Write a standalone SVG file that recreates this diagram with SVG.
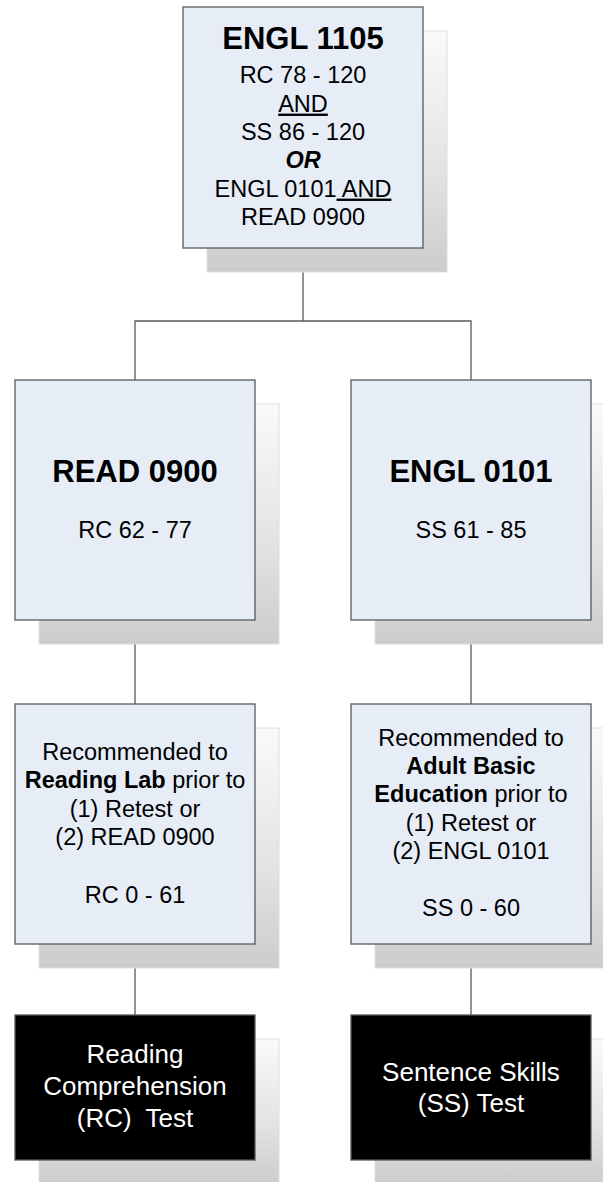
<svg xmlns="http://www.w3.org/2000/svg" width="603" height="1182" viewBox="0 0 603 1182">
<defs>
<linearGradient id="shd" x1="0" y1="0" x2="0" y2="1">
<stop offset="0" stop-color="#fafafa"/>
<stop offset="0.6" stop-color="#e2e2e2"/>
<stop offset="1" stop-color="#cccccc"/>
</linearGradient>
<style>
.shadow{fill:url(#shd);stroke:#dddddd;stroke-width:1}
.box{fill:#e6edf7;stroke:#595959;stroke-width:1.3}
.dark{fill:#000000;stroke:#595959;stroke-width:1.3}
.conn{fill:none;stroke:#595959;stroke-width:1.3}
text{font-family:"Liberation Sans",Arial,sans-serif;text-anchor:middle;fill:#000000}
.title{font-size:31px;font-weight:bold}
.body{font-size:23.5px}
.wt{font-size:26px;fill:#ffffff;white-space:pre}
.b{font-weight:bold}
.u{text-decoration:underline}
</style>
</defs>
<rect width="603" height="1182" fill="#ffffff"/>
<g id="connectors">
<path class="conn" d="M303 248 V321"/>
<path class="conn" d="M135 380 V321 H471 V380"/>
<path class="conn" d="M135 620 V704"/>
<path class="conn" d="M471 620 V704"/>
<path class="conn" d="M135 944 V1015"/>
<path class="conn" d="M471 944 V1015"/>
</g>
<g id="engl1105">
<rect class="shadow" x="207" y="31" width="240" height="241"/>
<rect class="box" x="183" y="7" width="240" height="241"/>
<text class="title" x="303" y="48.5">ENGL 1105</text>
<text class="body" x="303" y="83.3">RC 78 - 120</text>
<text class="body" x="303" y="111.6"><tspan class="u">AND</tspan></text>
<text class="body" x="303" y="139.9">SS 86 - 120</text>
<text class="body b" x="303" y="168.2" font-style="italic">OR</text>
<text class="body" x="303" y="196.6">ENGL 0101<tspan class="u"> AND</tspan></text>
<text class="body" x="303" y="224.9">READ 0900</text>
</g>
<g id="read0900">
<rect class="shadow" x="39" y="404" width="240" height="240"/>
<rect class="box" x="15" y="380" width="240" height="240"/>
<text class="title" x="135" y="481.7">READ 0900</text>
<text class="body" x="135" y="538.3">RC 62 - 77</text>
</g>
<g id="engl0101">
<rect class="shadow" x="375" y="404" width="240" height="240"/>
<rect class="box" x="351" y="380" width="240" height="240"/>
<text class="title" x="471" y="481.7">ENGL 0101</text>
<text class="body" x="471" y="538.3">SS 61 - 85</text>
</g>
<g id="readinglab">
<rect class="shadow" x="39" y="728" width="240" height="240"/>
<rect class="box" x="15" y="704" width="240" height="240"/>
<text class="body" x="135" y="759.5">Recommended to</text>
<text class="body" x="135" y="788"><tspan class="b">Reading Lab</tspan> prior to</text>
<text class="body" x="135" y="816.5">(1) Retest or</text>
<text class="body" x="135" y="845">(2) READ 0900</text>
<text class="body" x="135" y="902.5">RC 0 - 61</text>
</g>
<g id="adultbasic">
<rect class="shadow" x="375" y="728" width="240" height="240"/>
<rect class="box" x="351" y="704" width="240" height="240"/>
<text class="body" x="471" y="745.5">Recommended to</text>
<text class="body b" x="471" y="773.9">Adult Basic</text>
<text class="body" x="471" y="802.3"><tspan class="b">Education</tspan> prior to</text>
<text class="body" x="471" y="830.6">(1) Retest or</text>
<text class="body" x="471" y="859">(2) ENGL 0101</text>
<text class="body" x="471" y="915.8">SS 0 - 60</text>
</g>
<g id="rctest">
<rect class="shadow" x="39" y="1039" width="240" height="145"/>
<rect class="dark" x="15" y="1015" width="240" height="145"/>
<text class="wt" x="135" y="1063.3">Reading</text>
<text class="wt" x="135" y="1095">Comprehension</text>
<text class="wt" x="135" y="1126.7">(RC)  Test</text>
</g>
<g id="sstest">
<rect class="shadow" x="375" y="1039" width="240" height="145"/>
<rect class="dark" x="351" y="1015" width="240" height="145"/>
<text class="wt" x="471" y="1081">Sentence Skills</text>
<text class="wt" x="471" y="1111.7">(SS) Test</text>
</g>
</svg>
